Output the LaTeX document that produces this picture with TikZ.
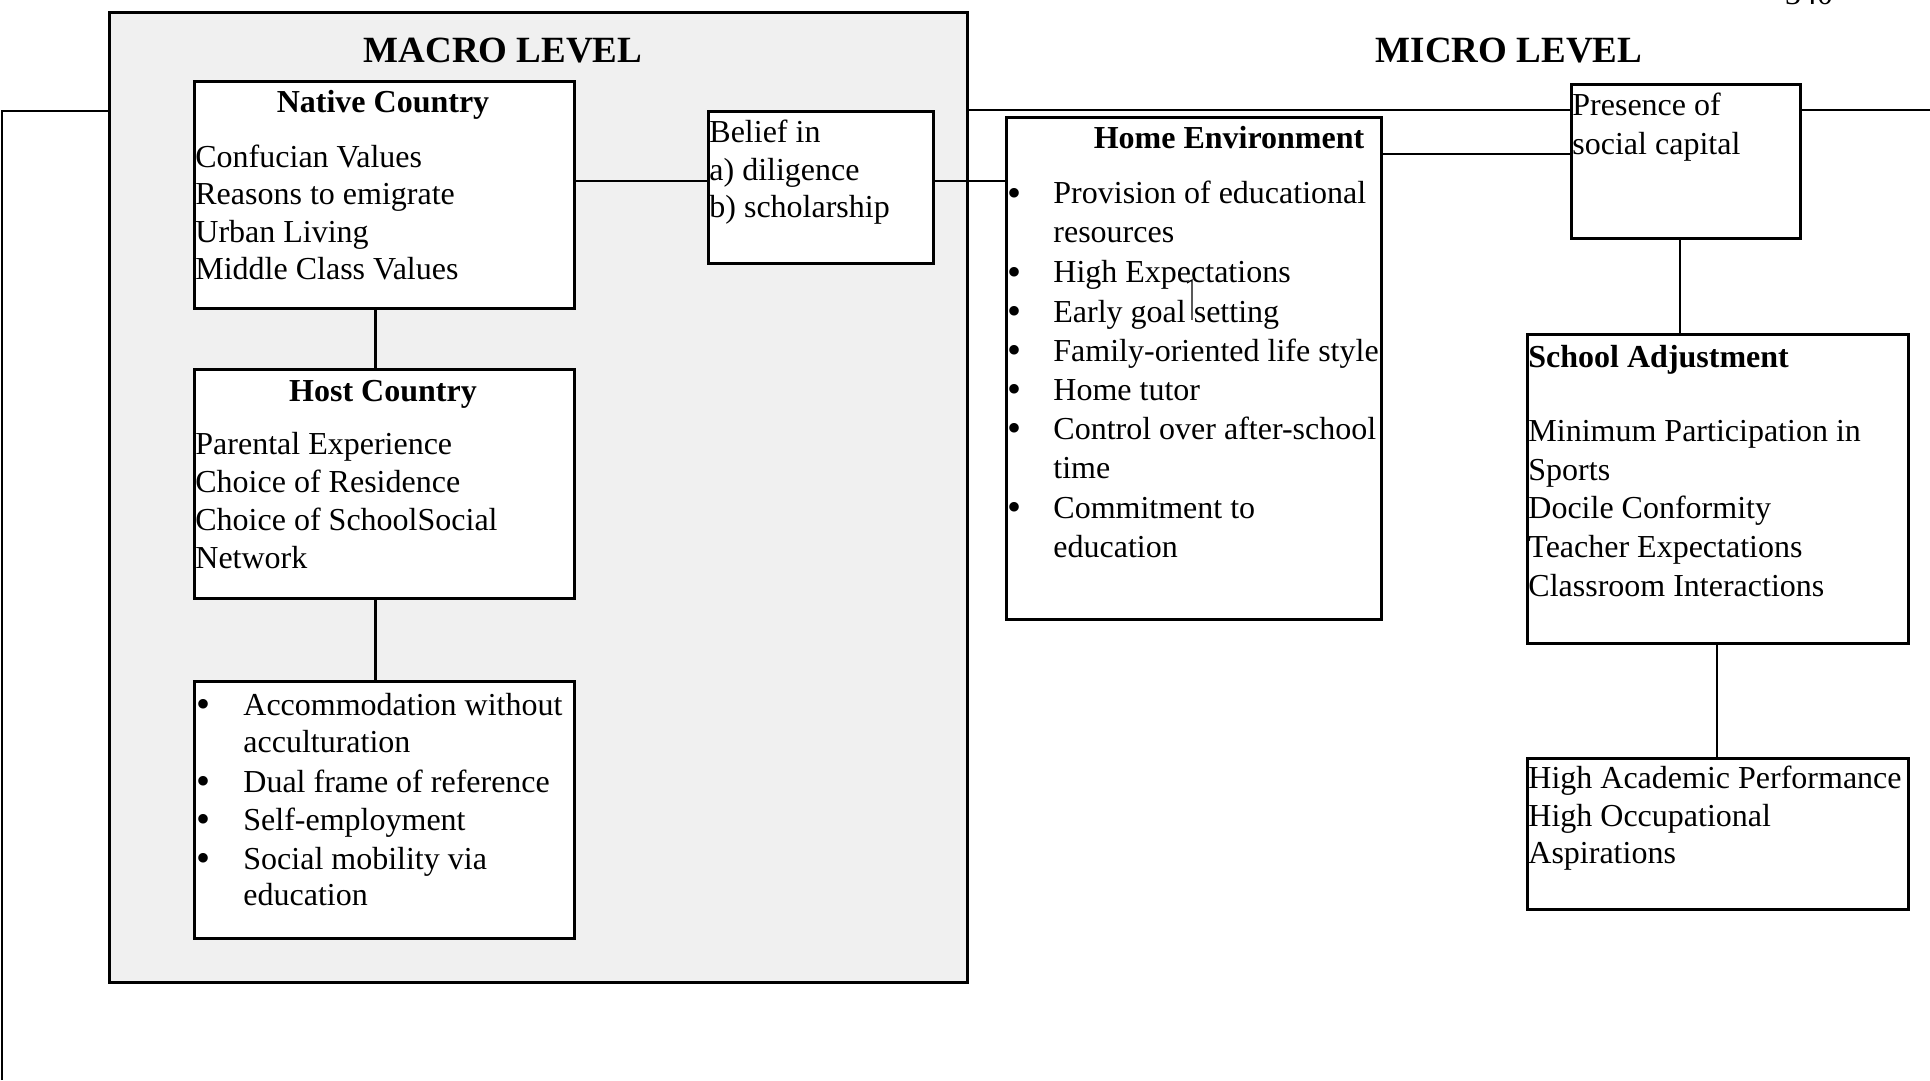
\documentclass[tikz,border=0pt]{standalone}
\usepackage{fontspec}
\setmainfont{Liberation Serif}
\newcommand{\bigbul}{\smash{\raisebox{-1.2pt}{\fontsize{20}{19}\selectfont •}}}
\begin{document}
\begin{tikzpicture}[x=0.5pt,y=-0.5pt,
  box/.style={draw, line width=1.4pt, fill=white, inner sep=0pt, anchor=north west},
  conn/.style={line width=1.1pt},
  txt/.style={inner sep=0pt, anchor=base west, font=\fontsize{16}{19}\selectfont},
  btxt/.style={txt, font=\fontsize{16}{19}\selectfont\bfseries},
  head/.style={inner sep=0pt, anchor=base, font=\fontsize{16}{19}\selectfont\bfseries},
  level/.style={inner sep=0pt, anchor=base, font=\fontsize{18.5}{22}\selectfont\bfseries}]

\useasboundingbox (0,0) rectangle (1930,1080);
\fill[white] (0,0) rectangle (1930,1080);

% macro panel
\node[box, fill=black!6, minimum width=429pt, minimum height=485pt] (macro) at (108,11) {};

% boxes
\node[box, minimum width=190pt, minimum height=113.5pt] (native) at (193,80) {};
\node[box, minimum width=112.5pt, minimum height=76pt] (belief) at (707,110) {};
\node[box, minimum width=190pt, minimum height=114.5pt] (host) at (193,368) {};
\node[box, minimum width=190pt, minimum height=128.5pt] (acc) at (193,680) {};
\node[box, minimum width=187.5pt, minimum height=251pt] (home) at (1005,116) {};
\node[box, minimum width=114.5pt, minimum height=77pt] (presence) at (1570,83) {};
\node[box, minimum width=190.5pt, minimum height=154.5pt] (school) at (1526,333) {};
\node[box, minimum width=190.5pt, minimum height=75.5pt] (high) at (1526,757) {};

% frame lines
\coordinate (fbot) at (2,1080);
\coordinate (fright) at (1930,110);
\draw[conn] (fbot) |- ([yshift=-50pt]macro.north west);
\draw[conn] ([yshift=-49.5pt]macro.north east) -- ([yshift=-13.5pt]presence.north west);
\draw[conn] ([yshift=-13.5pt]presence.north east) -- (fright);

% connectors
\draw[conn] ([yshift=3pt]belief.west) -- ([yshift=3pt]belief.west -| native.east);
\draw[conn] ([yshift=3pt]belief.east) -- ([yshift=3pt]belief.east -| home.west);
\draw[conn] ([yshift=3.5pt]presence.west) -- ([yshift=3.5pt]presence.west -| home.east);
\draw[conn] ([xshift=-4.5pt]native.south) -- ([xshift=-4.5pt]host.north);
\draw[conn] ([xshift=-4.5pt]host.south) -- ([xshift=-4.5pt]acc.north);
\draw[conn] ([xshift=-3pt]presence.south) -- ([xshift=-3pt]presence.south |- school.north);
\draw[conn] ([xshift=-0.5pt]school.south) -- ([xshift=-0.5pt]high.north);

% level titles
\node[level] (macroT) at (503,63) {MACRO LEVEL};
\node[level] (microT) at (1509,63) {MICRO LEVEL};

% page number (cut off at the top, as in the scan)
\begin{scope}
\clip (0,0) rectangle (1930,1080);
\node[txt, anchor=base] (pg) at (1809,5) {340};
\end{scope}

% Native country
\node[head] (ncT) at (383,113) {Native Country};
\node[txt] (nc1) at (195,168) {Confucian Values};
\node[txt] (nc2) at (195,205) {Reasons to emigrate};
\node[txt] (nc3) at (195,243) {Urban Living};
\node[txt] (nc4) at (195,280) {Middle Class Values};

% Belief
\node[txt] (b1) at (709,143) {Belief in};
\node[txt] (b2) at (709,181) {a) diligence};
\node[txt] (b3) at (709,218) {b) scholarship};

% Host country
\node[head] (hcT) at (383,401) {Host Country};
\node[txt] (hc1) at (195,454) {Parental Experience};
\node[txt] (hc2) at (195,492) {Choice of Residence};
\node[txt] (hc3) at (195,530) {Choice of SchoolSocial};
\node[txt] (hc4) at (195,568) {Network};

% Accommodation list
\node[txt] (a1) at (196,715) {\makebox[23.5pt][l]{\bigbul}Accommodation without};
\node[txt] (a2) at (243,752) {acculturation};
\node[txt] (a3) at (196,792) {\makebox[23.5pt][l]{\bigbul}Dual frame of reference};
\node[txt] (a4) at (196,830) {\makebox[23.5pt][l]{\bigbul}Self-employment};
\node[txt] (a5) at (196,869) {\makebox[23.5pt][l]{\bigbul}Social mobility via};
\node[txt] (a6) at (243,905) {education};

% Home environment
\node[head] (heT) at (1229,149) {Home Environment};
\node[txt] (h1) at (1007,204) {\makebox[23pt][l]{\bigbul}Provision of educational};
\node[txt] (h2) at (1053,243) {resources};
\node[txt] (h3) at (1007,283) {\makebox[23pt][l]{\bigbul}High Expectations};
\node[txt] (h4) at (1007,322) {\makebox[23pt][l]{\bigbul}Early goal setting};
\node[txt] (h5) at (1007,361) {\makebox[23pt][l]{\bigbul}Family-oriented life style};
\node[txt] (h6) at (1007,400) {\makebox[23pt][l]{\bigbul}Home tutor};
\node[txt] (h7) at (1007,439) {\makebox[23pt][l]{\bigbul}Control over after-school};
\node[txt] (h8) at (1053,478) {time};
\node[txt] (h9) at (1007,518) {\makebox[23pt][l]{\bigbul}Commitment to};
\node[txt] (h10) at (1053,557) {education};
% scan mark inside the list
\draw[line width=0.6pt] (1187,283) -- (1192,280) -- (1192,320);

% Presence of social capital
\node[txt] (p1) at (1572,116) {Presence of};
\node[txt] (p2) at (1572,155) {social capital};

% School adjustment
\node[btxt] (saT) at (1528,367) {School Adjustment};
\node[txt] (s1) at (1528,441) {Minimum Participation in};
\node[txt] (s2) at (1528,480) {Sports};
\node[txt] (s3) at (1528,518) {Docile Conformity};
\node[txt] (s4) at (1528,557) {Teacher Expectations};
\node[txt] (s5) at (1528,596) {Classroom Interactions};

% Outcomes
\node[txt] (o1) at (1528,788) {High Academic Performance};
\node[txt] (o2) at (1528,826) {High Occupational};
\node[txt] (o3) at (1528,863) {Aspirations};
\end{tikzpicture}
\end{document}
